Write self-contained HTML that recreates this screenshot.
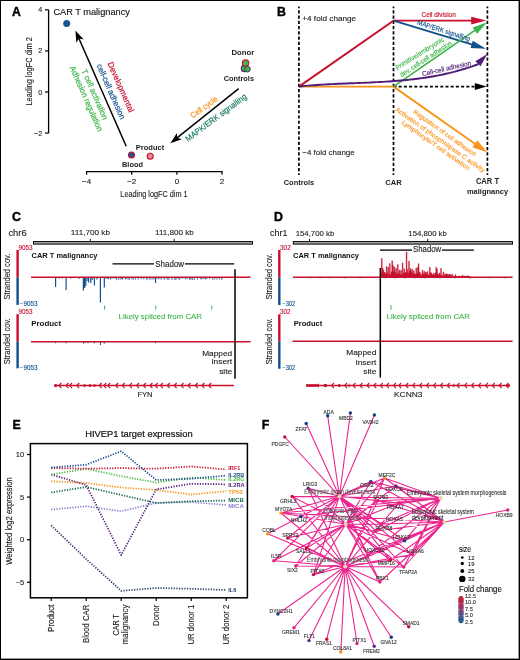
<!DOCTYPE html>
<html><head><meta charset="utf-8"><style>
html,body{margin:0;padding:0;background:#fff;}
body{width:520px;height:660px;overflow:hidden;position:relative;}
svg{position:absolute;left:0;top:0;font-family:"Liberation Sans", sans-serif;will-change:transform;}
.frame{position:absolute;left:0;top:0;width:520px;height:660px;box-sizing:border-box;border:1px solid #000;}
.frame2{position:absolute;left:1px;top:1px;width:518px;height:658px;box-sizing:border-box;border-right:1px solid #999;border-bottom:1px solid #999;}
</style></head><body>
<svg width="520" height="660" viewBox="0 0 520 660">
<text x="12.00" y="16.00" font-size="12.4" font-weight="bold" textLength="8.80" lengthAdjust="spacingAndGlyphs" stroke="#000" stroke-width="0.4">A</text>
<line x1="48.60" y1="9.80" x2="48.60" y2="133.20" stroke="#000" stroke-width="1.3" />
<line x1="45.00" y1="9.80" x2="48.60" y2="9.80" stroke="#000" stroke-width="1.2" />
<text x="42.20" y="12.30" font-size="7.2" fill="#222" text-anchor="end" stroke="#222" stroke-width="0.12">4</text>
<line x1="45.00" y1="50.90" x2="48.60" y2="50.90" stroke="#000" stroke-width="1.2" />
<text x="42.20" y="53.40" font-size="7.2" fill="#222" text-anchor="end" stroke="#222" stroke-width="0.12">2</text>
<line x1="45.00" y1="92.00" x2="48.60" y2="92.00" stroke="#000" stroke-width="1.2" />
<text x="42.20" y="94.50" font-size="7.2" fill="#222" text-anchor="end" stroke="#222" stroke-width="0.12">0</text>
<line x1="45.00" y1="133.10" x2="48.60" y2="133.10" stroke="#000" stroke-width="1.2" />
<text x="42.20" y="135.60" font-size="7.2" fill="#222" text-anchor="end" stroke="#222" stroke-width="0.12">−2</text>
<text transform="translate(31.60,71.40) rotate(-90.00)" x="0.00" y="0.00" font-size="9.1" fill="#222" text-anchor="middle" textLength="68.30" lengthAdjust="spacingAndGlyphs" stroke="#222" stroke-width="0.12">Leading logFC dim 2</text>
<line x1="86.30" y1="171.60" x2="222.60" y2="171.60" stroke="#000" stroke-width="1.3" />
<line x1="86.60" y1="171.60" x2="86.60" y2="174.80" stroke="#000" stroke-width="1.2" />
<text x="86.60" y="184.30" font-size="8" fill="#222" text-anchor="middle" stroke="#222" stroke-width="0.12">−4</text>
<line x1="131.70" y1="171.60" x2="131.70" y2="174.80" stroke="#000" stroke-width="1.2" />
<text x="131.70" y="184.30" font-size="8" fill="#222" text-anchor="middle" stroke="#222" stroke-width="0.12">−2</text>
<line x1="176.90" y1="171.60" x2="176.90" y2="174.80" stroke="#000" stroke-width="1.2" />
<text x="176.90" y="184.30" font-size="8" fill="#222" text-anchor="middle" stroke="#222" stroke-width="0.12">0</text>
<line x1="222.00" y1="171.60" x2="222.00" y2="174.80" stroke="#000" stroke-width="1.2" />
<text x="222.00" y="184.30" font-size="8" fill="#222" text-anchor="middle" stroke="#222" stroke-width="0.12">2</text>
<text x="154.00" y="197.40" font-size="9.1" fill="#222" text-anchor="middle" textLength="67.30" lengthAdjust="spacingAndGlyphs" stroke="#222" stroke-width="0.12">Leading logFC dim 1</text>
<circle cx="66.70" cy="23.60" r="3.50" fill="#1b5694"/>
<text x="53.40" y="15.20" font-size="9.2" fill="#111" textLength="76.50" lengthAdjust="spacingAndGlyphs" stroke="#111" stroke-width="0.12">CAR T malignancy</text>
<circle cx="131.50" cy="155.00" r="3.00" fill="#1b5694" stroke="#c8102e" stroke-width="1.1"/>
<circle cx="150.20" cy="156.20" r="3.00" fill="#e3889b" stroke="#c8102e" stroke-width="1.1"/>
<text x="135.80" y="149.60" font-size="7.8" fill="#222" font-weight="bold" textLength="28.40" lengthAdjust="spacingAndGlyphs">Product</text>
<text x="122.00" y="167.30" font-size="7.8" fill="#222" font-weight="bold" textLength="21.00" lengthAdjust="spacingAndGlyphs">Blood</text>
<circle cx="244.60" cy="68.40" r="3.30" fill="#3db54a" stroke="#4f1f78" stroke-width="1.1"/>
<circle cx="247.40" cy="69.10" r="2.90" fill="#3db54a" stroke="#4f1f78" stroke-width="0.9"/>
<circle cx="245.60" cy="63.10" r="3.20" fill="#3db54a" stroke="#c8102e" stroke-width="1.1"/>
<text x="231.40" y="54.80" font-size="7.8" fill="#222" font-weight="bold" textLength="22.80" lengthAdjust="spacingAndGlyphs">Donor</text>
<text x="223.70" y="80.60" font-size="7.8" fill="#222" font-weight="bold" textLength="30.30" lengthAdjust="spacingAndGlyphs">Controls</text>
<line x1="126.20" y1="146.20" x2="78.17" y2="36.82" stroke="#000" stroke-width="1.5" />
<polygon points="75.40,30.50 83.69,39.42 78.87,38.40 76.36,42.64" fill="#000"/>
<line x1="238.70" y1="88.70" x2="175.79" y2="138.90" stroke="#000" stroke-width="1.5" />
<polygon points="170.40,143.20 176.89,132.90 177.14,137.82 181.88,139.15" fill="#000"/>
<text transform="translate(118.40,88.30) rotate(66.20)" x="0.00" y="0.00" font-size="8.2" fill="#c8102e" text-anchor="middle" textLength="54.00" lengthAdjust="spacingAndGlyphs" stroke="#c8102e" stroke-width="0.2">Developmental</text>
<text transform="translate(108.40,92.80) rotate(66.20)" x="0.00" y="0.00" font-size="8.2" fill="#11508c" text-anchor="middle" textLength="59.50" lengthAdjust="spacingAndGlyphs" stroke="#11508c" stroke-width="0.2">cell-cell adhesion</text>
<text transform="translate(92.20,95.50) rotate(66.20)" x="0.00" y="0.00" font-size="8.2" fill="#3db54a" text-anchor="middle" textLength="54.20" lengthAdjust="spacingAndGlyphs" stroke="#3db54a" stroke-width="0.2">T cell activation</text>
<text transform="translate(83.80,99.80) rotate(66.20)" x="0.00" y="0.00" font-size="8.2" fill="#3db54a" text-anchor="middle" textLength="70.70" lengthAdjust="spacingAndGlyphs" stroke="#3db54a" stroke-width="0.2">Adhesion regulation</text>
<text transform="translate(205.50,109.40) rotate(-36.00)" x="0.00" y="0.00" font-size="8.2" fill="#f7941d" text-anchor="middle" textLength="31.40" lengthAdjust="spacingAndGlyphs" stroke="#f7941d" stroke-width="0.2">Cell cycle</text>
<text transform="translate(217.70,119.80) rotate(-36.80)" x="0.00" y="0.00" font-size="8.2" fill="#1b7a66" text-anchor="middle" textLength="74.00" lengthAdjust="spacingAndGlyphs" stroke="#1b7a66" stroke-width="0.2">MAPK/ERK signalling</text>
<text x="276.90" y="15.50" font-size="12.4" font-weight="bold" stroke="#000" stroke-width="0.4">B</text>
<line x1="298.90" y1="6.40" x2="298.90" y2="175.00" stroke="#000" stroke-width="1.7" stroke-dasharray="3.2,2.06" stroke-dashoffset="1.46"/>
<line x1="393.50" y1="6.40" x2="393.50" y2="175.00" stroke="#000" stroke-width="1.7" stroke-dasharray="3.2,2.06" stroke-dashoffset="1.46"/>
<line x1="487.40" y1="6.40" x2="487.40" y2="175.00" stroke="#000" stroke-width="1.7" stroke-dasharray="3.2,2.06" stroke-dashoffset="1.46"/>
<text x="302.30" y="20.80" font-size="7.8" fill="#222" textLength="53.80" lengthAdjust="spacingAndGlyphs" stroke="#222" stroke-width="0.12">+4 fold change</text>
<text x="302.30" y="155.00" font-size="7.8" fill="#222" textLength="52.40" lengthAdjust="spacingAndGlyphs" stroke="#222" stroke-width="0.12">−4 fold change</text>
<text x="299.00" y="185.20" font-size="7.8" fill="#222" font-weight="bold" text-anchor="middle" textLength="30.50" lengthAdjust="spacingAndGlyphs">Controls</text>
<text x="393.50" y="185.20" font-size="7.8" fill="#222" font-weight="bold" text-anchor="middle" textLength="16.50" lengthAdjust="spacingAndGlyphs">CAR</text>
<text x="487.50" y="184.40" font-size="8.3" fill="#222" font-weight="bold" text-anchor="middle" textLength="23.20" lengthAdjust="spacingAndGlyphs">CAR T</text>
<text x="487.50" y="194.40" font-size="8.0" fill="#222" font-weight="bold" text-anchor="middle" textLength="41.20" lengthAdjust="spacingAndGlyphs">malignancy</text>
<line x1="393.50" y1="86.60" x2="476.00" y2="86.60" stroke="#000" stroke-width="1.6" stroke-dasharray="3,2.2"/>
<polygon points="486.80,86.60 474.80,90.10 474.80,83.10" fill="#000"/>
<line x1="298.90" y1="86.60" x2="393.50" y2="86.60" stroke="#f7941d" stroke-width="1.9" />
<line x1="393.50" y1="86.60" x2="477.00" y2="145.20" stroke="#f7941d" stroke-width="1.9" />
<polygon points="487.10,152.30 472.38,147.16 477.26,140.20" fill="#f7941d"/>
<polyline points="298.9,86.6 393.5,20.6 474,20.6" fill="none" stroke="#c8102e" stroke-width="1.9"/>
<polygon points="486.20,20.60 471.20,24.40 471.20,16.80" fill="#c8102e"/>
<line x1="393.50" y1="20.60" x2="475.00" y2="45.30" stroke="#11508c" stroke-width="1.9" />
<polygon points="486.00,48.70 470.54,47.98 472.75,40.70" fill="#11508c"/>
<line x1="393.50" y1="86.60" x2="477.00" y2="28.90" stroke="#3db54a" stroke-width="1.7" />
<polygon points="487.20,22.20 476.99,33.83 472.69,27.56" fill="#3db54a"/>
<polyline points="298.9,86.51 301.9,86.20 304.9,85.92 307.9,85.66 310.9,85.41 313.9,85.18 316.9,84.97 319.9,84.77 322.9,84.59 325.9,84.41 328.9,84.25 331.9,84.10 334.9,83.95 337.9,83.81 340.9,83.68 343.9,83.56 346.9,83.44 349.9,83.32 352.9,83.20 355.9,83.08 358.9,82.96 361.9,82.84 364.9,82.71 367.9,82.59 370.9,82.45 373.9,82.31 376.9,82.16 379.9,82.00 382.9,81.83 385.9,81.65 388.9,81.46 391.9,81.25 394.9,81.03 397.9,80.79 400.9,80.53 403.9,80.26 406.9,79.96 409.9,79.65 412.9,79.31 415.9,78.95 418.9,78.56 421.9,78.15 424.9,77.71 427.9,77.24 430.9,76.75 433.9,76.22 436.9,75.66 439.9,75.07 442.9,74.45 445.9,73.79 448.9,73.09 451.9,72.36 454.9,71.58 457.9,70.77 460.9,69.92 463.9,69.02 466.9,68.08 469.9,67.10 472.9,66.07 475.9,64.99 478.5,64.02" fill="none" stroke="#4f1f78" stroke-width="1.9" stroke-linejoin="round"/>
<polygon points="487.30,54.10 480.52,66.32 475.34,61.32" fill="#4f1f78"/>
<text x="421.50" y="17.00" font-size="7" fill="#c8102e" textLength="34.20" lengthAdjust="spacingAndGlyphs" stroke="#c8102e" stroke-width="0.15">Cell division</text>
<text transform="translate(443.00,32.80) rotate(17.90)" x="0.00" y="0.00" font-size="6.8" fill="#11508c" text-anchor="middle" textLength="55.00" lengthAdjust="spacingAndGlyphs" stroke="#11508c" stroke-width="0.15">MAP/ERK signalling</text>
<text transform="translate(420.90,55.40) rotate(-32.00)" x="0.00" y="0.00" font-size="6.8" fill="#3db54a" text-anchor="middle" textLength="55.90" lengthAdjust="spacingAndGlyphs" stroke="#3db54a" stroke-width="0.15">Primitive/embryonic</text>
<text transform="translate(427.00,60.80) rotate(-33.00)" x="0.00" y="0.00" font-size="6.8" fill="#3db54a" text-anchor="middle" textLength="60.30" lengthAdjust="spacingAndGlyphs" stroke="#3db54a" stroke-width="0.15">dev, cell-cell adhesion</text>
<text transform="translate(447.10,70.70) rotate(-12.70)" x="0.00" y="0.00" font-size="6.8" fill="#4f1f78" text-anchor="middle" textLength="50.00" lengthAdjust="spacingAndGlyphs" stroke="#4f1f78" stroke-width="0.15">Cell-cell adhesion</text>
<text transform="translate(443.50,134.70) rotate(35.50)" x="0.00" y="0.00" font-size="6.3" fill="#f7941d" text-anchor="middle" textLength="75.50" lengthAdjust="spacingAndGlyphs" stroke="#f7941d" stroke-width="0.15">Regulation of cell adhesion</text>
<text transform="translate(438.90,141.50) rotate(35.20)" x="0.00" y="0.00" font-size="6.3" fill="#f7941d" text-anchor="middle" textLength="107.60" lengthAdjust="spacingAndGlyphs" stroke="#f7941d" stroke-width="0.15">Activation of phospholipase C activity</text>
<text transform="translate(434.60,147.00) rotate(35.20)" x="0.00" y="0.00" font-size="6.3" fill="#f7941d" text-anchor="middle" textLength="81.40" lengthAdjust="spacingAndGlyphs" stroke="#f7941d" stroke-width="0.15">Lymphocyte/T cell activation</text>
<text x="12.10" y="221.00" font-size="12.4" font-weight="bold" stroke="#000" stroke-width="0.4">C</text>
<text x="8.40" y="236.30" font-size="9" fill="#222" textLength="18.20" lengthAdjust="spacingAndGlyphs" stroke="#222" stroke-width="0.12">chr6</text>
<rect x="33.5" y="241.6" width="219" height="2.5" fill="#b0b0b0" stroke="#000" stroke-width="1.0"/>
<line x1="90.30" y1="238.80" x2="90.30" y2="241.50" stroke="#000" stroke-width="0.9" />
<line x1="174.20" y1="238.80" x2="174.20" y2="241.50" stroke="#000" stroke-width="0.9" />
<text x="90.40" y="235.40" font-size="8" fill="#222" text-anchor="middle" textLength="39.20" lengthAdjust="spacingAndGlyphs" stroke="#222" stroke-width="0.12">111,700 kb</text>
<text x="174.40" y="235.40" font-size="8" fill="#222" text-anchor="middle" textLength="38.80" lengthAdjust="spacingAndGlyphs" stroke="#222" stroke-width="0.12">111,800 kb</text>
<rect x="16.40" y="250.00" width="2.4" height="27.30" fill="#c8102e"/>
<rect x="16.40" y="277.30" width="2.4" height="27.60" fill="#11508c"/>
<text x="18.40" y="249.70" font-size="6.3" fill="#c8102e" textLength="14.20" lengthAdjust="spacingAndGlyphs" stroke="#c8102e" stroke-width="0.12">9053</text>
<text x="19.80" y="306.00" font-size="6.3" fill="#11508c" textLength="17.60" lengthAdjust="spacingAndGlyphs" stroke="#11508c" stroke-width="0.12">−9053</text>
<text transform="translate(10.00,276.60) rotate(-90.00)" x="0.00" y="0.00" font-size="9" fill="#222" text-anchor="middle" textLength="46.00" lengthAdjust="spacingAndGlyphs" stroke="#222" stroke-width="0.12">Stranded cov.</text>
<text x="31.50" y="258.20" font-size="8" fill="#111" font-weight="bold" textLength="66.00" lengthAdjust="spacingAndGlyphs">CAR T malignancy</text>
<line x1="112.50" y1="263.80" x2="154.00" y2="263.80" stroke="#000" stroke-width="1.3" />
<line x1="185.00" y1="263.80" x2="234.20" y2="263.80" stroke="#000" stroke-width="1.3" />
<text x="155.30" y="266.60" font-size="8.3" fill="#222" textLength="28.80" lengthAdjust="spacingAndGlyphs" stroke="#222" stroke-width="0.12">Shadow</text>
<line x1="55.60" y1="277.30" x2="55.60" y2="287.00" stroke="#11508c" stroke-width="1.2" />
<line x1="66.10" y1="277.30" x2="66.10" y2="290.00" stroke="#11508c" stroke-width="1.2" />
<line x1="83.40" y1="277.30" x2="83.40" y2="290.50" stroke="#11508c" stroke-width="1.2" />
<line x1="84.60" y1="277.30" x2="84.60" y2="288.00" stroke="#11508c" stroke-width="1.2" />
<line x1="85.80" y1="277.30" x2="85.80" y2="286.00" stroke="#11508c" stroke-width="1.2" />
<line x1="87.00" y1="277.30" x2="87.00" y2="281.00" stroke="#11508c" stroke-width="1.2" />
<line x1="88.60" y1="277.30" x2="88.60" y2="282.50" stroke="#11508c" stroke-width="1.2" />
<line x1="90.80" y1="277.30" x2="90.80" y2="283.00" stroke="#11508c" stroke-width="1.2" />
<line x1="92.20" y1="277.30" x2="92.20" y2="280.00" stroke="#11508c" stroke-width="1.2" />
<line x1="94.40" y1="277.30" x2="94.40" y2="285.50" stroke="#11508c" stroke-width="1.2" />
<line x1="100.40" y1="277.30" x2="100.40" y2="302.50" stroke="#11508c" stroke-width="1.2" />
<line x1="104.30" y1="277.30" x2="104.30" y2="287.50" stroke="#11508c" stroke-width="1.2" />
<line x1="155.50" y1="277.30" x2="155.50" y2="283.00" stroke="#11508c" stroke-width="1.2" />
<line x1="59.00" y1="277.30" x2="59.00" y2="278.60" stroke="#11508c" stroke-width="1.2" />
<line x1="62.00" y1="277.30" x2="62.00" y2="278.40" stroke="#11508c" stroke-width="1.2" />
<line x1="71.00" y1="277.30" x2="71.00" y2="278.60" stroke="#11508c" stroke-width="1.2" />
<line x1="79.00" y1="277.30" x2="79.00" y2="278.80" stroke="#11508c" stroke-width="1.2" />
<line x1="97.00" y1="277.30" x2="97.00" y2="279.50" stroke="#11508c" stroke-width="1.2" />
<line x1="108.00" y1="277.30" x2="108.00" y2="279.00" stroke="#11508c" stroke-width="1.2" />
<line x1="122.00" y1="277.30" x2="122.00" y2="279.00" stroke="#11508c" stroke-width="1.2" />
<line x1="126.00" y1="277.30" x2="126.00" y2="278.80" stroke="#11508c" stroke-width="1.2" />
<line x1="160.00" y1="277.30" x2="160.00" y2="278.60" stroke="#11508c" stroke-width="1.2" />
<line x1="166.00" y1="277.30" x2="166.00" y2="278.60" stroke="#11508c" stroke-width="1.2" />
<line x1="176.00" y1="277.30" x2="176.00" y2="278.50" stroke="#11508c" stroke-width="1.2" />
<line x1="190.00" y1="277.30" x2="190.00" y2="278.60" stroke="#11508c" stroke-width="1.2" />
<line x1="206.00" y1="277.30" x2="206.00" y2="278.70" stroke="#11508c" stroke-width="1.2" />
<line x1="106.00" y1="277.30" x2="106.00" y2="279.03" stroke="#11508c" stroke-width="0.8" />
<line x1="108.28" y1="277.30" x2="108.28" y2="279.24" stroke="#11508c" stroke-width="0.8" />
<line x1="110.67" y1="277.30" x2="110.67" y2="279.65" stroke="#11508c" stroke-width="0.8" />
<line x1="112.08" y1="277.30" x2="112.08" y2="278.67" stroke="#11508c" stroke-width="0.8" />
<line x1="114.89" y1="277.30" x2="114.89" y2="279.06" stroke="#11508c" stroke-width="0.8" />
<line x1="116.61" y1="277.30" x2="116.61" y2="280.24" stroke="#11508c" stroke-width="0.8" />
<line x1="118.76" y1="277.30" x2="118.76" y2="279.99" stroke="#11508c" stroke-width="0.8" />
<line x1="120.92" y1="277.30" x2="120.92" y2="279.67" stroke="#11508c" stroke-width="0.8" />
<line x1="122.49" y1="277.30" x2="122.49" y2="279.67" stroke="#11508c" stroke-width="0.8" />
<line x1="125.35" y1="277.30" x2="125.35" y2="279.49" stroke="#11508c" stroke-width="0.8" />
<line x1="127.99" y1="277.30" x2="127.99" y2="279.72" stroke="#11508c" stroke-width="0.8" />
<line x1="129.40" y1="277.30" x2="129.40" y2="279.86" stroke="#11508c" stroke-width="0.8" />
<line x1="131.76" y1="277.30" x2="131.76" y2="279.13" stroke="#11508c" stroke-width="0.8" />
<line x1="133.12" y1="277.30" x2="133.12" y2="280.03" stroke="#11508c" stroke-width="0.8" />
<line x1="135.27" y1="277.30" x2="135.27" y2="279.80" stroke="#11508c" stroke-width="0.8" />
<line x1="138.15" y1="277.30" x2="138.15" y2="279.79" stroke="#11508c" stroke-width="0.8" />
<line x1="141.11" y1="277.30" x2="141.11" y2="279.28" stroke="#11508c" stroke-width="0.8" />
<line x1="143.85" y1="277.30" x2="143.85" y2="279.36" stroke="#11508c" stroke-width="0.8" />
<line x1="146.84" y1="277.30" x2="146.84" y2="280.06" stroke="#11508c" stroke-width="0.8" />
<line x1="148.31" y1="277.30" x2="148.31" y2="278.87" stroke="#11508c" stroke-width="0.8" />
<line x1="150.00" y1="277.30" x2="150.00" y2="280.19" stroke="#11508c" stroke-width="0.8" />
<line x1="152.09" y1="277.30" x2="152.09" y2="279.65" stroke="#11508c" stroke-width="0.8" />
<line x1="153.93" y1="277.30" x2="153.93" y2="279.46" stroke="#11508c" stroke-width="0.8" />
<line x1="155.92" y1="277.30" x2="155.92" y2="279.21" stroke="#11508c" stroke-width="0.8" />
<line x1="158.28" y1="277.30" x2="158.28" y2="279.58" stroke="#11508c" stroke-width="0.8" />
<line x1="161.21" y1="277.30" x2="161.21" y2="279.74" stroke="#11508c" stroke-width="0.8" />
<line x1="164.18" y1="277.30" x2="164.18" y2="280.02" stroke="#11508c" stroke-width="0.8" />
<line x1="167.26" y1="277.30" x2="167.26" y2="279.72" stroke="#11508c" stroke-width="0.8" />
<line x1="168.85" y1="277.30" x2="168.85" y2="280.03" stroke="#11508c" stroke-width="0.8" />
<line x1="171.89" y1="277.30" x2="171.89" y2="280.10" stroke="#11508c" stroke-width="0.8" />
<line x1="174.22" y1="277.30" x2="174.22" y2="279.79" stroke="#11508c" stroke-width="0.8" />
<line x1="175.90" y1="277.30" x2="175.90" y2="279.98" stroke="#11508c" stroke-width="0.8" />
<line x1="178.23" y1="277.30" x2="178.23" y2="279.11" stroke="#11508c" stroke-width="0.8" />
<line x1="179.64" y1="277.30" x2="179.64" y2="280.02" stroke="#11508c" stroke-width="0.8" />
<line x1="182.72" y1="277.30" x2="182.72" y2="278.79" stroke="#11508c" stroke-width="0.8" />
<line x1="185.46" y1="277.30" x2="185.46" y2="279.31" stroke="#11508c" stroke-width="0.8" />
<line x1="187.04" y1="277.30" x2="187.04" y2="279.12" stroke="#11508c" stroke-width="0.8" />
<line x1="189.72" y1="277.30" x2="189.72" y2="280.05" stroke="#11508c" stroke-width="0.8" />
<line x1="191.10" y1="277.30" x2="191.10" y2="279.63" stroke="#11508c" stroke-width="0.8" />
<line x1="192.48" y1="277.30" x2="192.48" y2="279.80" stroke="#11508c" stroke-width="0.8" />
<line x1="194.38" y1="277.30" x2="194.38" y2="280.06" stroke="#11508c" stroke-width="0.8" />
<line x1="197.44" y1="277.30" x2="197.44" y2="279.46" stroke="#11508c" stroke-width="0.8" />
<line x1="200.54" y1="277.30" x2="200.54" y2="279.15" stroke="#11508c" stroke-width="0.8" />
<line x1="201.98" y1="277.30" x2="201.98" y2="279.61" stroke="#11508c" stroke-width="0.8" />
<line x1="203.33" y1="277.30" x2="203.33" y2="278.97" stroke="#11508c" stroke-width="0.8" />
<line x1="205.37" y1="277.30" x2="205.37" y2="279.63" stroke="#11508c" stroke-width="0.8" />
<line x1="206.95" y1="277.30" x2="206.95" y2="278.72" stroke="#11508c" stroke-width="0.8" />
<line x1="209.81" y1="277.30" x2="209.81" y2="279.15" stroke="#11508c" stroke-width="0.8" />
<line x1="212.84" y1="277.30" x2="212.84" y2="280.08" stroke="#11508c" stroke-width="0.8" />
<line x1="214.82" y1="277.30" x2="214.82" y2="279.39" stroke="#11508c" stroke-width="0.8" />
<line x1="217.05" y1="277.30" x2="217.05" y2="279.68" stroke="#11508c" stroke-width="0.8" />
<line x1="219.43" y1="277.30" x2="219.43" y2="279.54" stroke="#11508c" stroke-width="0.8" />
<line x1="221.84" y1="277.30" x2="221.84" y2="280.15" stroke="#11508c" stroke-width="0.8" />
<line x1="31.00" y1="277.30" x2="250.50" y2="277.30" stroke="#c8102e" stroke-width="1.5" />
<line x1="104.60" y1="305.60" x2="104.60" y2="309.60" stroke="#3db54a" stroke-width="1.0" />
<line x1="155.80" y1="305.60" x2="155.80" y2="309.60" stroke="#3db54a" stroke-width="1.0" />
<line x1="211.80" y1="305.60" x2="211.80" y2="309.60" stroke="#3db54a" stroke-width="1.0" />
<text x="118.60" y="319.20" font-size="8" fill="#3db54a" textLength="83.40" lengthAdjust="spacingAndGlyphs" stroke="#3db54a" stroke-width="0.12">Likely spliced from CAR</text>
<rect x="16.40" y="314.20" width="2.4" height="27.40" fill="#c8102e"/>
<rect x="16.40" y="341.60" width="2.4" height="26.70" fill="#11508c"/>
<text x="18.60" y="313.80" font-size="6.3" fill="#c8102e" textLength="14.00" lengthAdjust="spacingAndGlyphs" stroke="#c8102e" stroke-width="0.12">9053</text>
<text x="19.80" y="369.60" font-size="6.3" fill="#11508c" textLength="17.60" lengthAdjust="spacingAndGlyphs" stroke="#11508c" stroke-width="0.12">−9053</text>
<text transform="translate(10.00,341.30) rotate(-90.00)" x="0.00" y="0.00" font-size="9" fill="#222" text-anchor="middle" textLength="46.00" lengthAdjust="spacingAndGlyphs" stroke="#222" stroke-width="0.12">Stranded cov.</text>
<text x="31.20" y="325.80" font-size="8" fill="#111" font-weight="bold" textLength="30.00" lengthAdjust="spacingAndGlyphs">Product</text>
<line x1="55.60" y1="341.60" x2="55.60" y2="343.20" stroke="#11508c" stroke-width="1.0" />
<line x1="66.10" y1="341.60" x2="66.10" y2="343.40" stroke="#11508c" stroke-width="1.0" />
<line x1="83.50" y1="341.60" x2="83.50" y2="343.60" stroke="#11508c" stroke-width="1.0" />
<line x1="85.00" y1="341.60" x2="85.00" y2="343.00" stroke="#11508c" stroke-width="1.0" />
<line x1="88.00" y1="341.60" x2="88.00" y2="343.20" stroke="#11508c" stroke-width="1.0" />
<line x1="94.40" y1="341.60" x2="94.40" y2="343.40" stroke="#11508c" stroke-width="1.0" />
<line x1="100.40" y1="341.60" x2="100.40" y2="345.00" stroke="#11508c" stroke-width="1.0" />
<line x1="104.30" y1="341.60" x2="104.30" y2="343.60" stroke="#11508c" stroke-width="1.0" />
<line x1="155.50" y1="341.60" x2="155.50" y2="343.30" stroke="#11508c" stroke-width="1.0" />
<line x1="31.00" y1="341.80" x2="250.50" y2="341.80" stroke="#c8102e" stroke-width="1.5" />
<line x1="235.00" y1="269.20" x2="235.00" y2="378.80" stroke="#000" stroke-width="1.5" />
<text x="232.20" y="355.60" font-size="8" fill="#222" text-anchor="end" textLength="30.00" lengthAdjust="spacingAndGlyphs" stroke="#222" stroke-width="0.12">Mapped</text>
<text x="232.20" y="364.40" font-size="8" fill="#222" text-anchor="end" textLength="20.50" lengthAdjust="spacingAndGlyphs" stroke="#222" stroke-width="0.12">insert</text>
<text x="232.20" y="374.40" font-size="8" fill="#222" text-anchor="end" textLength="13.00" lengthAdjust="spacingAndGlyphs" stroke="#222" stroke-width="0.12">site</text>
<line x1="54.40" y1="385.60" x2="234.00" y2="385.60" stroke="#c8102e" stroke-width="1.5" />
<polyline points="61.30,383.00 58.90,385.60 61.30,388.20" fill="none" stroke="#c8102e" stroke-width="1.15"/>
<polyline points="68.50,383.00 66.10,385.60 68.50,388.20" fill="none" stroke="#c8102e" stroke-width="1.15"/>
<polyline points="72.00,383.00 69.60,385.60 72.00,388.20" fill="none" stroke="#c8102e" stroke-width="1.15"/>
<polyline points="79.20,383.00 76.80,385.60 79.20,388.20" fill="none" stroke="#c8102e" stroke-width="1.15"/>
<polyline points="101.60,383.00 99.20,385.60 101.60,388.20" fill="none" stroke="#c8102e" stroke-width="1.15"/>
<polyline points="106.20,383.00 103.80,385.60 106.20,388.20" fill="none" stroke="#c8102e" stroke-width="1.15"/>
<polyline points="110.10,383.00 107.70,385.60 110.10,388.20" fill="none" stroke="#c8102e" stroke-width="1.15"/>
<polyline points="118.10,383.00 115.70,385.60 118.10,388.20" fill="none" stroke="#c8102e" stroke-width="1.15"/>
<polyline points="124.70,383.00 122.30,385.60 124.70,388.20" fill="none" stroke="#c8102e" stroke-width="1.15"/>
<polyline points="131.90,383.00 129.50,385.60 131.90,388.20" fill="none" stroke="#c8102e" stroke-width="1.15"/>
<polyline points="139.00,383.00 136.60,385.60 139.00,388.20" fill="none" stroke="#c8102e" stroke-width="1.15"/>
<polyline points="145.80,383.00 143.40,385.60 145.80,388.20" fill="none" stroke="#c8102e" stroke-width="1.15"/>
<polyline points="152.40,383.00 150.00,385.60 152.40,388.20" fill="none" stroke="#c8102e" stroke-width="1.15"/>
<polyline points="157.60,383.00 155.20,385.60 157.60,388.20" fill="none" stroke="#c8102e" stroke-width="1.15"/>
<polyline points="162.80,383.00 160.40,385.60 162.80,388.20" fill="none" stroke="#c8102e" stroke-width="1.15"/>
<polyline points="169.70,383.00 167.30,385.60 169.70,388.20" fill="none" stroke="#c8102e" stroke-width="1.15"/>
<polyline points="176.60,383.00 174.20,385.60 176.60,388.20" fill="none" stroke="#c8102e" stroke-width="1.15"/>
<polyline points="183.50,383.00 181.10,385.60 183.50,388.20" fill="none" stroke="#c8102e" stroke-width="1.15"/>
<polyline points="190.50,383.00 188.10,385.60 190.50,388.20" fill="none" stroke="#c8102e" stroke-width="1.15"/>
<polyline points="197.70,383.00 195.30,385.60 197.70,388.20" fill="none" stroke="#c8102e" stroke-width="1.15"/>
<polyline points="204.30,383.00 201.90,385.60 204.30,388.20" fill="none" stroke="#c8102e" stroke-width="1.15"/>
<polyline points="211.20,383.00 208.80,385.60 211.20,388.20" fill="none" stroke="#c8102e" stroke-width="1.15"/>
<rect x="88.90" y="384.30" width="2.20" height="2.6" fill="#c8102e"/>
<circle cx="55.60" cy="385.60" r="1.60" fill="#c8102e"/>
<circle cx="84.60" cy="385.60" r="1.40" fill="#c8102e"/>
<circle cx="94.60" cy="385.60" r="1.30" fill="#c8102e"/>
<line x1="151.00" y1="383.80" x2="151.00" y2="387.40" stroke="#c8102e" stroke-width="0.9" />
<text x="137.40" y="397.20" font-size="8" fill="#222" textLength="15.20" lengthAdjust="spacingAndGlyphs" stroke="#222" stroke-width="0.12">FYN</text>
<text x="273.90" y="221.00" font-size="12.4" font-weight="bold" stroke="#000" stroke-width="0.4">D</text>
<text x="270.00" y="236.30" font-size="9" fill="#222" textLength="17.40" lengthAdjust="spacingAndGlyphs" stroke="#222" stroke-width="0.12">chr1</text>
<rect x="293.3" y="241.6" width="219.2" height="2.5" fill="#b0b0b0" stroke="#000" stroke-width="1.0"/>
<line x1="309.50" y1="238.80" x2="309.50" y2="241.50" stroke="#000" stroke-width="0.9" />
<line x1="427.70" y1="238.80" x2="427.70" y2="241.50" stroke="#000" stroke-width="0.9" />
<text x="315.00" y="235.60" font-size="8" fill="#222" text-anchor="middle" textLength="38.60" lengthAdjust="spacingAndGlyphs" stroke="#222" stroke-width="0.12">154,700 kb</text>
<text x="427.60" y="235.60" font-size="8" fill="#222" text-anchor="middle" textLength="38.50" lengthAdjust="spacingAndGlyphs" stroke="#222" stroke-width="0.12">154,800 kb</text>
<rect x="278.10" y="250.00" width="2.4" height="27.30" fill="#c8102e"/>
<rect x="278.10" y="277.30" width="2.4" height="27.70" fill="#11508c"/>
<text x="280.00" y="249.70" font-size="6.3" fill="#c8102e" textLength="10.80" lengthAdjust="spacingAndGlyphs" stroke="#c8102e" stroke-width="0.12">302</text>
<text x="282.40" y="305.80" font-size="6.3" fill="#11508c" textLength="12.80" lengthAdjust="spacingAndGlyphs" stroke="#11508c" stroke-width="0.12">−302</text>
<text transform="translate(272.20,276.60) rotate(-90.00)" x="0.00" y="0.00" font-size="9" fill="#222" text-anchor="middle" textLength="46.00" lengthAdjust="spacingAndGlyphs" stroke="#222" stroke-width="0.12">Stranded cov.</text>
<text x="293.00" y="258.20" font-size="8" fill="#111" font-weight="bold" textLength="66.00" lengthAdjust="spacingAndGlyphs">CAR T malignancy</text>
<line x1="380.00" y1="250.10" x2="412.00" y2="250.10" stroke="#000" stroke-width="1.3" />
<line x1="442.00" y1="250.10" x2="473.80" y2="250.10" stroke="#000" stroke-width="1.3" />
<text x="413.00" y="252.40" font-size="8.3" fill="#222" textLength="28.20" lengthAdjust="spacingAndGlyphs" stroke="#222" stroke-width="0.12">Shadow</text>
<path d="M380.6,277.3 L380.60,273.02 L381.40,273.02 L381.40,258.50 L382.20,258.50 L382.20,268.00 L383.00,268.00 L383.00,270.00 L383.80,270.00 L383.80,272.30 L384.60,272.30 L384.60,272.54 L385.40,272.54 L385.40,273.95 L386.20,273.95 L386.20,266.50 L387.00,266.50 L387.00,272.40 L387.80,272.40 L387.80,267.30 L388.60,267.30 L388.60,274.27 L389.40,274.27 L389.40,263.50 L390.20,263.50 L390.20,274.28 L391.00,274.28 L391.00,271.77 L391.80,271.77 L391.80,260.80 L392.60,260.80 L392.60,265.40 L393.40,265.40 L393.40,271.16 L394.20,271.16 L394.20,267.00 L395.00,267.00 L395.00,272.31 L395.80,272.31 L395.80,268.50 L396.60,268.50 L396.60,274.05 L397.40,274.05 L397.40,264.60 L398.20,264.60 L398.20,272.75 L399.00,272.75 L399.00,270.00 L399.80,270.00 L399.80,273.93 L400.60,273.93 L400.60,270.40 L401.40,270.40 L401.40,274.49 L402.20,274.49 L402.20,263.00 L403.00,263.00 L403.00,273.06 L403.80,273.06 L403.80,268.80 L404.60,268.80 L404.60,272.78 L405.40,272.78 L405.40,272.36 L406.20,272.36 L406.20,251.90 L407.00,251.90 L407.00,269.20 L407.80,269.20 L407.80,273.00 L408.60,273.00 L408.60,261.20 L409.40,261.20 L409.40,271.11 L410.20,271.11 L410.20,268.50 L411.00,268.50 L411.00,271.66 L411.80,271.66 L411.80,269.20 L412.60,269.20 L412.60,273.50 L413.40,273.50 L413.40,270.80 L414.20,270.80 L414.20,273.59 L415.00,273.59 L415.00,274.35 L415.80,274.35 L415.80,268.00 L416.60,268.00 L416.60,273.20 L417.40,273.20 L417.40,267.30 L418.20,267.30 L418.20,263.80 L419.00,263.80 L419.00,272.33 L419.80,272.33 L419.80,272.66 L420.60,272.66 L420.60,275.20 L421.40,275.20 L421.40,274.57 L422.20,274.57 L422.20,270.20 L423.00,270.20 L423.00,273.79 L423.80,273.79 L423.80,271.30 L424.60,271.30 L424.60,274.01 L425.40,274.01 L425.40,272.00 L426.20,272.00 L426.20,273.31 L427.00,273.31 L427.00,271.60 L427.80,271.60 L427.80,274.39 L428.60,274.39 L428.60,274.94 L429.40,274.94 L429.40,267.30 L430.20,267.30 L430.20,272.31 L431.00,272.31 L431.00,272.93 L431.80,272.93 L431.80,274.85 L432.60,274.85 L432.60,274.46 L433.40,274.46 L433.40,273.00 L434.20,273.00 L434.20,275.02 L435.00,275.02 L435.00,272.81 L435.80,272.81 L435.80,267.30 L436.60,267.30 L436.60,269.00 L437.40,269.00 L437.40,273.86 L438.20,273.86 L438.20,274.63 L439.00,274.63 L439.00,273.00 L439.80,273.00 L439.80,274.81 L440.60,274.81 L440.60,268.50 L441.40,268.50 L441.40,275.77 L442.20,275.77 L442.20,275.16 L443.00,275.16 L443.00,272.00 L443.80,272.00 L443.80,275.46 L444.60,275.46 L444.60,274.06 L445.40,274.06 L445.40,274.39 L446.20,274.39 L446.20,273.70 L447.00,273.70 L447.00,274.23 L447.80,274.23 L447.80,275.58 L448.60,275.58 L448.60,274.20 L449.40,274.20 L449.40,274.29 L450.20,274.29 L450.20,274.72 L451.00,274.72 L451.00,275.80 L451.80,275.80 L451.80,274.02 L452.60,274.02 L452.60,276.43 L453.40,276.43 L453.40,276.39 L454.20,276.39 L454.20,275.98 L455.00,275.98 L455.00,274.80 L455.80,274.80 L455.80,276.36 L456.60,276.36 L456.60,276.54 L457.40,276.54 L457.40,276.53 L458.20,276.53 L458.20,276.13 L459.00,276.13 L459.00,276.41 L459.80,276.41 L459.80,276.12 L460.60,276.12 L460.60,276.30 L461.40,276.30 L461.40,276.24 L462.20,276.24 L462.20,275.20 L463.00,275.20 L463.00,276.21 L463.80,276.21 L463.80,276.14 L464.60,276.14 L464.60,275.91 L465.40,275.91 L465.40,276.45 L466.20,276.45 L466.20,276.48 L467.00,276.48 L467.00,275.87 L467.80,275.87 L467.80,275.95 L468.60,275.95 L468.60,276.40 L469.40,276.40 L469.40,276.45 L470.20,276.45 L470.20,277.3 Z" fill="#c8102e" stroke="#c8102e" stroke-width="0.45" stroke-linejoin="miter" stroke-miterlimit="2"/>
<line x1="310.00" y1="277.30" x2="310.00" y2="278.50" stroke="#11508c" stroke-width="0.8" />
<line x1="320.00" y1="277.30" x2="320.00" y2="278.50" stroke="#11508c" stroke-width="0.8" />
<line x1="330.00" y1="277.30" x2="330.00" y2="278.50" stroke="#11508c" stroke-width="0.8" />
<line x1="345.00" y1="277.30" x2="345.00" y2="278.50" stroke="#11508c" stroke-width="0.8" />
<line x1="360.00" y1="277.30" x2="360.00" y2="278.50" stroke="#11508c" stroke-width="0.8" />
<line x1="385.00" y1="277.30" x2="385.00" y2="278.50" stroke="#11508c" stroke-width="0.8" />
<line x1="395.00" y1="277.30" x2="395.00" y2="278.50" stroke="#11508c" stroke-width="0.8" />
<line x1="405.00" y1="277.30" x2="405.00" y2="278.50" stroke="#11508c" stroke-width="0.8" />
<line x1="415.00" y1="277.30" x2="415.00" y2="278.50" stroke="#11508c" stroke-width="0.8" />
<line x1="425.00" y1="277.30" x2="425.00" y2="278.50" stroke="#11508c" stroke-width="0.8" />
<line x1="440.00" y1="277.30" x2="440.00" y2="278.50" stroke="#11508c" stroke-width="0.8" />
<line x1="455.00" y1="277.30" x2="455.00" y2="278.50" stroke="#11508c" stroke-width="0.8" />
<line x1="470.00" y1="277.30" x2="470.00" y2="278.50" stroke="#11508c" stroke-width="0.8" />
<line x1="490.00" y1="277.30" x2="490.00" y2="278.50" stroke="#11508c" stroke-width="0.8" />
<line x1="505.00" y1="277.30" x2="505.00" y2="278.50" stroke="#11508c" stroke-width="0.8" />
<line x1="293.00" y1="277.30" x2="512.60" y2="277.30" stroke="#c8102e" stroke-width="1.5" />
<line x1="391.00" y1="305.20" x2="391.00" y2="309.80" stroke="#3db54a" stroke-width="1.0" />
<text x="386.60" y="319.20" font-size="8" fill="#3db54a" textLength="83.40" lengthAdjust="spacingAndGlyphs" stroke="#3db54a" stroke-width="0.12">Likely spliced from CAR</text>
<rect x="278.10" y="314.30" width="2.4" height="27.00" fill="#c8102e"/>
<rect x="278.10" y="341.30" width="2.4" height="27.40" fill="#11508c"/>
<text x="280.00" y="313.80" font-size="6.3" fill="#c8102e" textLength="10.60" lengthAdjust="spacingAndGlyphs" stroke="#c8102e" stroke-width="0.12">302</text>
<text x="282.40" y="369.60" font-size="6.3" fill="#11508c" textLength="12.80" lengthAdjust="spacingAndGlyphs" stroke="#11508c" stroke-width="0.12">−302</text>
<text transform="translate(272.20,341.30) rotate(-90.00)" x="0.00" y="0.00" font-size="9" fill="#222" text-anchor="middle" textLength="46.00" lengthAdjust="spacingAndGlyphs" stroke="#222" stroke-width="0.12">Stranded cov.</text>
<text x="293.80" y="325.60" font-size="8" fill="#111" font-weight="bold" textLength="28.50" lengthAdjust="spacingAndGlyphs">Product</text>
<line x1="292.60" y1="341.30" x2="512.60" y2="341.30" stroke="#c8102e" stroke-width="1.5" />
<line x1="380.30" y1="268.00" x2="380.30" y2="377.60" stroke="#000" stroke-width="1.5" />
<text x="376.30" y="355.40" font-size="8" fill="#222" text-anchor="end" textLength="30.00" lengthAdjust="spacingAndGlyphs" stroke="#222" stroke-width="0.12">Mapped</text>
<text x="376.30" y="364.80" font-size="8" fill="#222" text-anchor="end" textLength="20.50" lengthAdjust="spacingAndGlyphs" stroke="#222" stroke-width="0.12">insert</text>
<text x="376.30" y="374.20" font-size="8" fill="#222" text-anchor="end" textLength="13.00" lengthAdjust="spacingAndGlyphs" stroke="#222" stroke-width="0.12">site</text>
<line x1="306.20" y1="385.50" x2="510.00" y2="385.50" stroke="#c8102e" stroke-width="1.5" />
<polyline points="333.90,382.90 331.50,385.50 333.90,388.10" fill="none" stroke="#c8102e" stroke-width="1.15"/>
<polyline points="347.00,382.90 344.60,385.50 347.00,388.10" fill="none" stroke="#c8102e" stroke-width="1.15"/>
<polyline points="355.40,382.90 353.00,385.50 355.40,388.10" fill="none" stroke="#c8102e" stroke-width="1.15"/>
<polyline points="362.40,382.90 360.00,385.50 362.40,388.10" fill="none" stroke="#c8102e" stroke-width="1.15"/>
<polyline points="369.40,382.90 367.00,385.50 369.40,388.10" fill="none" stroke="#c8102e" stroke-width="1.15"/>
<polyline points="376.20,382.90 373.80,385.50 376.20,388.10" fill="none" stroke="#c8102e" stroke-width="1.15"/>
<polyline points="382.80,382.90 380.40,385.50 382.80,388.10" fill="none" stroke="#c8102e" stroke-width="1.15"/>
<polyline points="388.90,382.90 386.50,385.50 388.90,388.10" fill="none" stroke="#c8102e" stroke-width="1.15"/>
<polyline points="395.90,382.90 393.50,385.50 395.90,388.10" fill="none" stroke="#c8102e" stroke-width="1.15"/>
<polyline points="401.20,382.90 398.80,385.50 401.20,388.10" fill="none" stroke="#c8102e" stroke-width="1.15"/>
<polyline points="408.20,382.90 405.80,385.50 408.20,388.10" fill="none" stroke="#c8102e" stroke-width="1.15"/>
<polyline points="415.10,382.90 412.70,385.50 415.10,388.10" fill="none" stroke="#c8102e" stroke-width="1.15"/>
<polyline points="422.00,382.90 419.60,385.50 422.00,388.10" fill="none" stroke="#c8102e" stroke-width="1.15"/>
<polyline points="428.90,382.90 426.50,385.50 428.90,388.10" fill="none" stroke="#c8102e" stroke-width="1.15"/>
<polyline points="435.90,382.90 433.50,385.50 435.90,388.10" fill="none" stroke="#c8102e" stroke-width="1.15"/>
<polyline points="442.80,382.90 440.40,385.50 442.80,388.10" fill="none" stroke="#c8102e" stroke-width="1.15"/>
<polyline points="449.70,382.90 447.30,385.50 449.70,388.10" fill="none" stroke="#c8102e" stroke-width="1.15"/>
<polyline points="459.40,382.90 457.00,385.50 459.40,388.10" fill="none" stroke="#c8102e" stroke-width="1.15"/>
<polyline points="467.00,382.90 464.60,385.50 467.00,388.10" fill="none" stroke="#c8102e" stroke-width="1.15"/>
<polyline points="473.90,382.90 471.50,385.50 473.90,388.10" fill="none" stroke="#c8102e" stroke-width="1.15"/>
<polyline points="480.90,382.90 478.50,385.50 480.90,388.10" fill="none" stroke="#c8102e" stroke-width="1.15"/>
<polyline points="487.80,382.90 485.40,385.50 487.80,388.10" fill="none" stroke="#c8102e" stroke-width="1.15"/>
<polyline points="494.70,382.90 492.30,385.50 494.70,388.10" fill="none" stroke="#c8102e" stroke-width="1.15"/>
<polyline points="501.60,382.90 499.20,385.50 501.60,388.10" fill="none" stroke="#c8102e" stroke-width="1.15"/>
<polyline points="508.40,382.90 506.00,385.50 508.40,388.10" fill="none" stroke="#c8102e" stroke-width="1.15"/>
<rect x="306.20" y="384.20" width="12.30" height="2.6" fill="#c8102e"/>
<circle cx="325.40" cy="385.50" r="1.80" fill="#c8102e"/>
<circle cx="339.20" cy="385.50" r="1.50" fill="#c8102e"/>
<circle cx="508.50" cy="385.50" r="1.40" fill="#c8102e"/>
<line x1="318.50" y1="383.70" x2="318.50" y2="387.30" stroke="#c8102e" stroke-width="0.9" />
<line x1="349.00" y1="383.70" x2="349.00" y2="387.30" stroke="#c8102e" stroke-width="0.9" />
<line x1="453.80" y1="383.70" x2="453.80" y2="387.30" stroke="#c8102e" stroke-width="0.9" />
<text x="394.00" y="396.60" font-size="8" fill="#222" textLength="28.50" lengthAdjust="spacingAndGlyphs" stroke="#222" stroke-width="0.12">KCNN3</text>
<text x="12.50" y="428.90" font-size="12.4" font-weight="bold" stroke="#000" stroke-width="0.4">E</text>
<text x="85.20" y="437.10" font-size="9.1" fill="#111" textLength="107.40" lengthAdjust="spacingAndGlyphs" stroke="#111" stroke-width="0.2">HIVEP1 target expression</text>
<rect x="30.4" y="443.6" width="217" height="154.2" fill="none" stroke="#000" stroke-width="1.5"/>
<line x1="27.00" y1="454.50" x2="30.40" y2="454.50" stroke="#000" stroke-width="1.2" />
<text x="24.30" y="457.10" font-size="7.6" fill="#222" text-anchor="end" stroke="#222" stroke-width="0.12">10</text>
<line x1="27.00" y1="497.10" x2="30.40" y2="497.10" stroke="#000" stroke-width="1.2" />
<text x="24.30" y="499.70" font-size="7.6" fill="#222" text-anchor="end" stroke="#222" stroke-width="0.12">5</text>
<line x1="27.00" y1="539.70" x2="30.40" y2="539.70" stroke="#000" stroke-width="1.2" />
<text x="24.30" y="542.30" font-size="7.6" fill="#222" text-anchor="end" stroke="#222" stroke-width="0.12">0</text>
<line x1="27.00" y1="582.30" x2="30.40" y2="582.30" stroke="#000" stroke-width="1.2" />
<text x="24.30" y="584.90" font-size="7.6" fill="#222" text-anchor="end" stroke="#222" stroke-width="0.12">−5</text>
<line x1="51.20" y1="597.80" x2="51.20" y2="601.00" stroke="#000" stroke-width="1.2" />
<line x1="86.20" y1="597.80" x2="86.20" y2="601.00" stroke="#000" stroke-width="1.2" />
<line x1="121.20" y1="597.80" x2="121.20" y2="601.00" stroke="#000" stroke-width="1.2" />
<line x1="156.20" y1="597.80" x2="156.20" y2="601.00" stroke="#000" stroke-width="1.2" />
<line x1="191.20" y1="597.80" x2="191.20" y2="601.00" stroke="#000" stroke-width="1.2" />
<line x1="226.20" y1="597.80" x2="226.20" y2="601.00" stroke="#000" stroke-width="1.2" />
<text transform="translate(53.90,604.60) rotate(-90.00)" x="0.00" y="0.00" font-size="8.3" fill="#222" text-anchor="end" textLength="27.30" lengthAdjust="spacingAndGlyphs" stroke="#222" stroke-width="0.12">Product</text>
<text transform="translate(88.90,604.60) rotate(-90.00)" x="0.00" y="0.00" font-size="8.3" fill="#222" text-anchor="end" textLength="38.40" lengthAdjust="spacingAndGlyphs" stroke="#222" stroke-width="0.12">Blood CAR</text>
<text transform="translate(118.90,624.80) rotate(-90.00)" x="0.00" y="0.00" font-size="8.3" fill="#222" text-anchor="middle" textLength="21.60" lengthAdjust="spacingAndGlyphs" stroke="#222" stroke-width="0.12">CAR T</text>
<text transform="translate(127.60,624.60) rotate(-90.00)" x="0.00" y="0.00" font-size="8.3" fill="#222" text-anchor="middle" textLength="40.00" lengthAdjust="spacingAndGlyphs" stroke="#222" stroke-width="0.12">malignancy</text>
<text transform="translate(159.20,604.60) rotate(-90.00)" x="0.00" y="0.00" font-size="8.3" fill="#222" text-anchor="end" textLength="21.30" lengthAdjust="spacingAndGlyphs" stroke="#222" stroke-width="0.12">Donor</text>
<text transform="translate(194.20,604.60) rotate(-90.00)" x="0.00" y="0.00" font-size="8.3" fill="#222" text-anchor="end" textLength="40.00" lengthAdjust="spacingAndGlyphs" stroke="#222" stroke-width="0.12">UR donor 1</text>
<text transform="translate(229.20,604.60) rotate(-90.00)" x="0.00" y="0.00" font-size="8.3" fill="#222" text-anchor="end" textLength="40.00" lengthAdjust="spacingAndGlyphs" stroke="#222" stroke-width="0.12">UR donor 2</text>
<text transform="translate(11.70,521.00) rotate(-90.00)" x="0.00" y="0.00" font-size="8.7" fill="#111" text-anchor="middle" textLength="87.50" lengthAdjust="spacingAndGlyphs" stroke="#111" stroke-width="0.12">Weighted log2 expression</text>
<polyline points="51.20,525.47 86.20,559.04 121.20,590.82 156.20,588.01 191.20,588.78 226.20,589.97" fill="none" stroke="#2b3f6b" stroke-width="1.75" stroke-dasharray="1.25,1.4" stroke-linejoin="round"/>
<polyline points="51.20,509.54 86.20,506.22 121.20,511.24 156.20,502.98 191.20,502.04 226.20,505.02" fill="none" stroke="#8781cc" stroke-width="1.75" stroke-dasharray="1.25,1.4" stroke-linejoin="round"/>
<polyline points="51.20,492.50 86.20,486.96 121.20,494.97 156.20,502.98 191.20,501.27 226.20,500.51" fill="none" stroke="#146b4f" stroke-width="1.75" stroke-dasharray="1.25,1.4" stroke-linejoin="round"/>
<polyline points="51.20,481.25 86.20,483.04 121.20,487.47 156.20,490.03 191.20,494.54 226.20,491.22" fill="none" stroke="#f7941d" stroke-width="1.75" stroke-dasharray="1.25,1.4" stroke-linejoin="round"/>
<polyline points="51.20,474.52 86.20,485.00 121.20,555.04 156.20,489.43 191.20,483.72 226.20,484.32" fill="none" stroke="#55207a" stroke-width="1.75" stroke-dasharray="1.25,1.4" stroke-linejoin="round"/>
<polyline points="51.20,474.52 86.20,468.73 121.20,476.23 156.20,482.53 191.20,477.50 226.20,480.06" fill="none" stroke="#4cbb47" stroke-width="1.75" stroke-dasharray="1.25,1.4" stroke-linejoin="round"/>
<polyline points="51.20,468.05 86.20,468.73 121.20,468.13 156.20,468.73 191.20,466.43 226.20,469.50" fill="none" stroke="#c8102e" stroke-width="1.75" stroke-dasharray="1.25,1.4" stroke-linejoin="round"/>
<polyline points="51.20,467.54 86.20,464.72 121.20,451.26 156.20,480.06 191.20,478.78 226.20,475.54" fill="none" stroke="#1d508e" stroke-width="1.75" stroke-dasharray="1.25,1.4" stroke-linejoin="round"/>
<text x="228.30" y="591.80" font-size="6.1" fill="#2b3f6b" font-weight="bold" textLength="8.20" lengthAdjust="spacingAndGlyphs">IL6</text>
<text x="228.30" y="507.80" font-size="6.1" fill="#8781cc" font-weight="bold" textLength="15.50" lengthAdjust="spacingAndGlyphs">MICA</text>
<text x="228.30" y="501.50" font-size="6.1" fill="#146b4f" font-weight="bold" textLength="15.50" lengthAdjust="spacingAndGlyphs">MICB</text>
<text x="228.30" y="493.50" font-size="6.1" fill="#f7941d" font-weight="bold" textLength="14.40" lengthAdjust="spacingAndGlyphs">TP53</text>
<text x="228.30" y="487.10" font-size="6.1" fill="#55207a" font-weight="bold" textLength="16.40" lengthAdjust="spacingAndGlyphs">IL2RA</text>
<text x="228.30" y="481.30" font-size="6.1" fill="#4cbb47" font-weight="bold" textLength="16.10" lengthAdjust="spacingAndGlyphs">IL2RG</text>
<text x="228.30" y="470.40" font-size="6.1" fill="#c8102e" font-weight="bold" textLength="12.10" lengthAdjust="spacingAndGlyphs">IRF1</text>
<text x="228.30" y="476.70" font-size="6.1" fill="#1d508e" font-weight="bold" textLength="16.10" lengthAdjust="spacingAndGlyphs">IL2RB</text>
<text x="261.70" y="428.60" font-size="12.4" font-weight="bold" stroke="#000" stroke-width="0.4">F</text>
<path d="M327.7,415.8L339.4,496.3M350.4,412.9L339.4,496.3M306.2,423.5L339.4,496.3M284.8,437.0L339.4,496.3M374.4,415.0L339.4,496.3M277.9,614.0L345.2,566.5M294.0,627.7L345.2,566.5M309.0,640.6L345.2,566.5M326.7,639.2L345.2,566.5M340.8,652.0L345.2,566.5M357.0,643.5L345.2,566.5M374.2,646.3L345.2,566.5M391.3,637.3L345.2,566.5M408.7,626.7L345.2,566.5M507.7,510.0L444.5,522.0M308.2,488.2L339.4,496.3M308.2,488.2L345.8,524.2M308.2,488.2L345.2,566.5M292.2,496.5L339.4,496.3M292.2,496.5L345.8,524.2M292.2,496.5L440.6,498.2M292.2,496.5L345.2,566.5M281.0,513.0L339.4,496.3M281.0,513.0L345.8,524.2M281.0,513.0L440.6,498.2M281.0,513.0L444.5,522.0M281.0,513.0L345.2,566.5M300.8,516.5L339.4,496.3M300.8,516.5L345.8,524.2M300.8,516.5L440.6,498.2M267.7,533.8L339.4,496.3M267.7,533.8L345.2,566.5M287.7,538.0L339.4,496.3M287.7,538.0L345.8,524.2M287.7,538.0L345.2,566.5M306.5,548.0L339.4,496.3M306.5,548.0L345.8,524.2M306.5,548.0L345.2,566.5M273.8,560.8L339.4,496.3M273.8,560.8L345.8,524.2M273.8,560.8L345.2,566.5M295.7,566.0L339.4,496.3M295.7,566.0L345.8,524.2M295.7,566.0L345.2,566.5M313.5,574.6L339.4,496.3M313.5,574.6L345.8,524.2M313.5,574.6L345.2,566.5M313.5,574.6L444.5,522.0M384.6,478.0L339.4,496.3M384.6,478.0L345.8,524.2M384.6,478.0L440.6,498.2M384.6,478.0L444.5,522.0M384.6,478.0L345.2,566.5M370.8,481.5L339.4,496.3M370.8,481.5L345.8,524.2M370.8,481.5L440.6,498.2M370.8,481.5L444.5,522.0M396.0,486.0L339.4,496.3M396.0,486.0L345.8,524.2M396.0,486.0L440.6,498.2M396.0,486.0L444.5,522.0M377.7,500.8L339.4,496.3M377.7,500.8L345.8,524.2M377.7,500.8L440.6,498.2M377.7,500.8L444.5,522.0M377.7,500.8L345.2,566.5M399.0,503.0L339.4,496.3M399.0,503.0L345.8,524.2M399.0,503.0L440.6,498.2M399.0,503.0L444.5,522.0M399.0,503.0L345.2,566.5M381.5,524.0L339.4,496.3M381.5,524.0L345.8,524.2M381.5,524.0L440.6,498.2M381.5,524.0L444.5,522.0M381.5,524.0L345.2,566.5M376.0,531.0L339.4,496.3M376.0,531.0L345.8,524.2M376.0,531.0L440.6,498.2M376.0,531.0L444.5,522.0M404.6,540.8L339.4,496.3M404.6,540.8L345.8,524.2M404.6,540.8L440.6,498.2M404.6,540.8L444.5,522.0M404.6,540.8L345.2,566.5M368.0,555.0L339.4,496.3M368.0,555.0L345.8,524.2M368.0,555.0L440.6,498.2M368.0,555.0L444.5,522.0M368.0,555.0L345.2,566.5M412.3,554.6L339.4,496.3M412.3,554.6L345.8,524.2M412.3,554.6L440.6,498.2M412.3,554.6L444.5,522.0M412.3,554.6L345.2,566.5M390.4,560.2L339.4,496.3M390.4,560.2L345.8,524.2M390.4,560.2L345.2,566.5M390.4,560.2L444.5,522.0M403.8,567.0L339.4,496.3M403.8,567.0L345.8,524.2M403.8,567.0L440.6,498.2M403.8,567.0L444.5,522.0M403.8,567.0L345.2,566.5M379.9,582.0L339.4,496.3M379.9,582.0L345.8,524.2M379.9,582.0L444.5,522.0M379.9,582.0L345.2,566.5" fill="none" stroke="#ec268f" stroke-width="1.1"/>
<circle cx="339.40" cy="496.30" r="2.10" fill="#e9d3a6"/>
<circle cx="345.80" cy="524.20" r="2.10" fill="#e9d3a6"/>
<circle cx="440.60" cy="498.20" r="2.10" fill="#e9d3a6"/>
<circle cx="444.50" cy="522.00" r="2.10" fill="#e9d3a6"/>
<circle cx="345.20" cy="566.50" r="2.10" fill="#e9d3a6"/>
<circle cx="327.70" cy="415.80" r="1.70" fill="#0d3f7e"/>
<circle cx="350.40" cy="412.90" r="1.70" fill="#0d3f7e"/>
<circle cx="306.20" cy="423.50" r="1.70" fill="#0d3f7e"/>
<circle cx="284.80" cy="437.00" r="1.70" fill="#c8102e"/>
<circle cx="374.40" cy="415.00" r="1.70" fill="#0d3f7e"/>
<circle cx="277.90" cy="614.00" r="1.70" fill="#0d3f7e"/>
<circle cx="294.00" cy="627.70" r="1.70" fill="#e0207f"/>
<circle cx="309.00" cy="640.60" r="1.70" fill="#5b2a86"/>
<circle cx="326.70" cy="639.20" r="1.70" fill="#c8102e"/>
<circle cx="340.80" cy="652.00" r="1.70" fill="#f7941d"/>
<circle cx="357.00" cy="643.50" r="1.70" fill="#e0207f"/>
<circle cx="374.20" cy="646.30" r="1.70" fill="#5b2a86"/>
<circle cx="391.30" cy="637.30" r="1.70" fill="#0d3f7e"/>
<circle cx="408.70" cy="626.70" r="1.70" fill="#c8102e"/>
<circle cx="507.70" cy="510.00" r="1.70" fill="#e0207f"/>
<circle cx="308.20" cy="488.20" r="1.70" fill="#5b2a86"/>
<circle cx="292.20" cy="496.50" r="1.70" fill="#c8102e"/>
<circle cx="281.00" cy="513.00" r="1.70" fill="#f7941d"/>
<circle cx="300.80" cy="516.50" r="1.70" fill="#0d3f7e"/>
<circle cx="267.70" cy="533.80" r="1.70" fill="#f7941d"/>
<circle cx="287.70" cy="538.00" r="1.70" fill="#c8102e"/>
<circle cx="306.50" cy="548.00" r="1.70" fill="#c8102e"/>
<circle cx="273.80" cy="560.80" r="1.70" fill="#e0207f"/>
<circle cx="295.70" cy="566.00" r="1.70" fill="#e0207f"/>
<circle cx="313.50" cy="574.60" r="1.70" fill="#c8102e"/>
<circle cx="384.60" cy="478.00" r="1.70" fill="#f7941d"/>
<circle cx="370.80" cy="481.50" r="1.70" fill="#5b2a86"/>
<circle cx="396.00" cy="486.00" r="1.70" fill="#5b2a86"/>
<circle cx="377.70" cy="500.80" r="1.70" fill="#d8247f"/>
<circle cx="399.00" cy="503.00" r="1.70" fill="#d8247f"/>
<circle cx="381.50" cy="524.00" r="1.70" fill="#d8247f"/>
<circle cx="376.00" cy="531.00" r="1.70" fill="#d8247f"/>
<circle cx="404.60" cy="540.80" r="1.70" fill="#0d3f7e"/>
<circle cx="368.00" cy="555.00" r="1.70" fill="#d8247f"/>
<circle cx="412.30" cy="554.60" r="1.70" fill="#d8247f"/>
<circle cx="390.40" cy="560.20" r="1.70" fill="#c8102e"/>
<circle cx="403.80" cy="567.00" r="1.70" fill="#d8247f"/>
<circle cx="379.90" cy="582.00" r="1.70" fill="#e0207f"/>
<text x="323.50" y="413.80" font-size="5.4" fill="#333" textLength="10.22" lengthAdjust="spacingAndGlyphs" stroke="#333" stroke-width="0.12">ADA</text>
<text x="339.00" y="419.80" font-size="5.4" fill="#333" textLength="13.80" lengthAdjust="spacingAndGlyphs" stroke="#333" stroke-width="0.12">MBD2</text>
<text x="295.60" y="431.00" font-size="5.4" fill="#333" textLength="11.77" lengthAdjust="spacingAndGlyphs" stroke="#333" stroke-width="0.12">ZFAT</text>
<text x="271.50" y="446.20" font-size="5.4" fill="#333" textLength="17.39" lengthAdjust="spacingAndGlyphs" stroke="#333" stroke-width="0.12">PDGFC</text>
<text x="362.50" y="423.50" font-size="5.4" fill="#333" textLength="15.92" lengthAdjust="spacingAndGlyphs" stroke="#333" stroke-width="0.12">VASH2</text>
<text x="269.60" y="612.70" font-size="5.4" fill="#333" textLength="23.19" lengthAdjust="spacingAndGlyphs" stroke="#333" stroke-width="0.12">DYNC2H1</text>
<text x="282.00" y="633.80" font-size="5.4" fill="#333" textLength="17.67" lengthAdjust="spacingAndGlyphs" stroke="#333" stroke-width="0.12">GREM1</text>
<text x="303.80" y="638.00" font-size="5.4" fill="#333" textLength="11.23" lengthAdjust="spacingAndGlyphs" stroke="#333" stroke-width="0.12">FLT1</text>
<text x="316.00" y="644.60" font-size="5.4" fill="#333" textLength="16.01" lengthAdjust="spacingAndGlyphs" stroke="#333" stroke-width="0.12">FRAS1</text>
<text x="333.00" y="649.80" font-size="5.4" fill="#333" textLength="19.05" lengthAdjust="spacingAndGlyphs" stroke="#333" stroke-width="0.12">COL8A1</text>
<text x="352.50" y="642.00" font-size="5.4" fill="#333" textLength="13.80" lengthAdjust="spacingAndGlyphs" stroke="#333" stroke-width="0.12">PITX1</text>
<text x="363.00" y="652.50" font-size="5.4" fill="#333" textLength="16.84" lengthAdjust="spacingAndGlyphs" stroke="#333" stroke-width="0.12">FREM2</text>
<text x="380.40" y="643.50" font-size="5.4" fill="#333" textLength="16.29" lengthAdjust="spacingAndGlyphs" stroke="#333" stroke-width="0.12">GNA12</text>
<text x="402.50" y="625.20" font-size="5.4" fill="#333" textLength="17.12" lengthAdjust="spacingAndGlyphs" stroke="#333" stroke-width="0.12">SMAD1</text>
<text x="495.70" y="517.00" font-size="5.4" fill="#333" textLength="16.84" lengthAdjust="spacingAndGlyphs" stroke="#333" stroke-width="0.12">HOXB9</text>
<text x="303.00" y="486.20" font-size="5.4" fill="#333" textLength="14.36" lengthAdjust="spacingAndGlyphs" stroke="#333" stroke-width="0.12">LRIG3</text>
<text x="280.00" y="503.00" font-size="5.4" fill="#333" textLength="16.57" lengthAdjust="spacingAndGlyphs" stroke="#333" stroke-width="0.12">GRHL3</text>
<text x="275.00" y="511.20" font-size="5.4" fill="#333" textLength="17.39" lengthAdjust="spacingAndGlyphs" stroke="#333" stroke-width="0.12">MYO7A</text>
<text x="290.80" y="522.30" font-size="5.4" fill="#333" textLength="16.29" lengthAdjust="spacingAndGlyphs" stroke="#333" stroke-width="0.12">NHLH2</text>
<text x="262.30" y="531.50" font-size="5.4" fill="#333" textLength="13.53" lengthAdjust="spacingAndGlyphs" stroke="#333" stroke-width="0.12">COBL</text>
<text x="282.30" y="536.60" font-size="5.4" fill="#333" textLength="16.20" lengthAdjust="spacingAndGlyphs" stroke="#333" stroke-width="0.12">SPRY2</text>
<text x="296.00" y="553.00" font-size="5.4" fill="#333" textLength="14.92" lengthAdjust="spacingAndGlyphs" stroke="#333" stroke-width="0.12">SALL1</text>
<text x="271.00" y="558.20" font-size="5.4" fill="#333" textLength="10.49" lengthAdjust="spacingAndGlyphs" stroke="#333" stroke-width="0.12">IL5R</text>
<text x="287.00" y="572.00" font-size="5.4" fill="#333" textLength="10.77" lengthAdjust="spacingAndGlyphs" stroke="#333" stroke-width="0.12">SIX2</text>
<text x="310.50" y="573.00" font-size="5.4" fill="#333" textLength="13.80" lengthAdjust="spacingAndGlyphs" stroke="#333" stroke-width="0.12">PITX2</text>
<text x="378.50" y="476.60" font-size="5.4" fill="#333" textLength="16.84" lengthAdjust="spacingAndGlyphs" stroke="#333" stroke-width="0.12">MEF2C</text>
<text x="360.00" y="487.00" font-size="5.4" fill="#333" textLength="13.53" lengthAdjust="spacingAndGlyphs" stroke="#333" stroke-width="0.12">OSR2</text>
<text x="385.40" y="490.80" font-size="5.4" fill="#333" textLength="17.12" lengthAdjust="spacingAndGlyphs" stroke="#333" stroke-width="0.12">HOXC6</text>
<text x="373.00" y="499.00" font-size="5.4" fill="#333" textLength="15.37" lengthAdjust="spacingAndGlyphs" stroke="#333" stroke-width="0.12">SATB2</text>
<text x="387.00" y="508.50" font-size="5.4" fill="#333" textLength="16.84" lengthAdjust="spacingAndGlyphs" stroke="#333" stroke-width="0.12">HOXA7</text>
<text x="386.00" y="520.50" font-size="5.4" fill="#333" textLength="16.84" lengthAdjust="spacingAndGlyphs" stroke="#333" stroke-width="0.12">HOXA5</text>
<text x="375.40" y="529.70" font-size="5.4" fill="#333" textLength="16.84" lengthAdjust="spacingAndGlyphs" stroke="#333" stroke-width="0.12">HOXB8</text>
<text x="393.00" y="539.20" font-size="5.4" fill="#333" textLength="16.84" lengthAdjust="spacingAndGlyphs" stroke="#333" stroke-width="0.12">HOXA3</text>
<text x="364.60" y="552.30" font-size="5.4" fill="#333" textLength="19.88" lengthAdjust="spacingAndGlyphs" stroke="#333" stroke-width="0.12">HOXC10</text>
<text x="407.00" y="553.40" font-size="5.4" fill="#333" textLength="16.84" lengthAdjust="spacingAndGlyphs" stroke="#333" stroke-width="0.12">HOXA6</text>
<text x="377.70" y="565.40" font-size="5.4" fill="#333" textLength="17.12" lengthAdjust="spacingAndGlyphs" stroke="#333" stroke-width="0.12">MMP16</text>
<text x="398.90" y="573.60" font-size="5.4" fill="#333" textLength="18.50" lengthAdjust="spacingAndGlyphs" stroke="#333" stroke-width="0.12">TFAP2A</text>
<text x="376.00" y="579.60" font-size="5.4" fill="#333" textLength="12.70" lengthAdjust="spacingAndGlyphs" stroke="#333" stroke-width="0.12">PBX1</text>
<text x="339.80" y="494.00" font-size="6.3" fill="#555" text-anchor="middle" textLength="71.00" lengthAdjust="spacingAndGlyphs" stroke="#555" stroke-width="0.12">Embryonic organ development</text>
<text x="340.00" y="513.00" font-size="6.3" fill="#555" text-anchor="middle" textLength="34.00" lengthAdjust="spacingAndGlyphs" stroke="#555" stroke-width="0.12">Embryonic organ</text>
<text x="342.00" y="519.80" font-size="6.3" fill="#555" text-anchor="middle" textLength="35.00" lengthAdjust="spacingAndGlyphs" stroke="#555" stroke-width="0.12">morphogenesis</text>
<text x="407.00" y="495.30" font-size="6.3" fill="#333" textLength="99.50" lengthAdjust="spacingAndGlyphs" stroke="#333" stroke-width="0.12">Embryonic skeletal system morphogenesis</text>
<text x="411.70" y="514.00" font-size="6.3" fill="#333" textLength="62.30" lengthAdjust="spacingAndGlyphs" stroke="#333" stroke-width="0.12">Embryonic skeletal system</text>
<text x="411.70" y="520.30" font-size="6.3" fill="#333" textLength="31.80" lengthAdjust="spacingAndGlyphs" stroke="#333" stroke-width="0.12">development</text>
<text x="338.00" y="562.00" font-size="6.3" fill="#555" text-anchor="middle" textLength="62.00" lengthAdjust="spacingAndGlyphs" stroke="#555" stroke-width="0.12">Embryonic morphogenesis</text>
<text x="458.90" y="552.30" font-size="8.6" fill="#111" textLength="12.20" lengthAdjust="spacingAndGlyphs" stroke="#111" stroke-width="0.12">size</text>
<circle cx="462.30" cy="557.50" r="1.35" fill="#000"/>
<text x="468.10" y="559.50" font-size="5.8" fill="#222" stroke="#222" stroke-width="0.12">12</text>
<circle cx="462.30" cy="563.50" r="1.65" fill="#000"/>
<text x="468.10" y="565.50" font-size="5.8" fill="#222" stroke="#222" stroke-width="0.12">19</text>
<circle cx="462.30" cy="571.10" r="2.00" fill="#000"/>
<text x="468.10" y="573.10" font-size="5.8" fill="#222" stroke="#222" stroke-width="0.12">25</text>
<circle cx="462.30" cy="578.90" r="3.20" fill="#000"/>
<text x="468.10" y="580.90" font-size="5.8" fill="#222" stroke="#222" stroke-width="0.12">32</text>
<text x="458.90" y="591.80" font-size="8.6" fill="#111" textLength="42.90" lengthAdjust="spacingAndGlyphs" stroke="#111" stroke-width="0.12">Fold change</text>
<defs><linearGradient id="fcg" x1="0" y1="0" x2="0" y2="1"><stop offset="0" stop-color="#c8102e"/><stop offset="0.35" stop-color="#a4365e"/><stop offset="0.62" stop-color="#644c7e"/><stop offset="1" stop-color="#165a94"/></linearGradient></defs>
<rect x="458.3" y="596.0" width="5.4" height="27.2" rx="2.5" fill="url(#fcg)"/>
<line x1="458.30" y1="597.50" x2="459.60" y2="597.50" stroke="#fff" stroke-width="0.6" />
<line x1="462.40" y1="597.50" x2="463.70" y2="597.50" stroke="#fff" stroke-width="0.6" />
<line x1="458.30" y1="603.80" x2="459.60" y2="603.80" stroke="#fff" stroke-width="0.6" />
<line x1="462.40" y1="603.80" x2="463.70" y2="603.80" stroke="#fff" stroke-width="0.6" />
<line x1="458.30" y1="609.80" x2="459.60" y2="609.80" stroke="#fff" stroke-width="0.6" />
<line x1="462.40" y1="609.80" x2="463.70" y2="609.80" stroke="#fff" stroke-width="0.6" />
<line x1="458.30" y1="615.80" x2="459.60" y2="615.80" stroke="#fff" stroke-width="0.6" />
<line x1="462.40" y1="615.80" x2="463.70" y2="615.80" stroke="#fff" stroke-width="0.6" />
<line x1="458.30" y1="621.80" x2="459.60" y2="621.80" stroke="#fff" stroke-width="0.6" />
<line x1="462.40" y1="621.80" x2="463.70" y2="621.80" stroke="#fff" stroke-width="0.6" />
<text x="465.00" y="598.20" font-size="5.6" fill="#333" stroke="#333" stroke-width="0.12">12.5</text>
<text x="465.00" y="604.40" font-size="5.6" fill="#333" stroke="#333" stroke-width="0.12">10.0</text>
<text x="465.00" y="611.00" font-size="5.6" fill="#333" stroke="#333" stroke-width="0.12">7.5</text>
<text x="465.00" y="617.00" font-size="5.6" fill="#333" stroke="#333" stroke-width="0.12">5.0</text>
<text x="465.00" y="623.60" font-size="5.6" fill="#333" stroke="#333" stroke-width="0.12">2.5</text>
</svg>
<div class="frame2"></div><div class="frame"></div>
</body></html>
